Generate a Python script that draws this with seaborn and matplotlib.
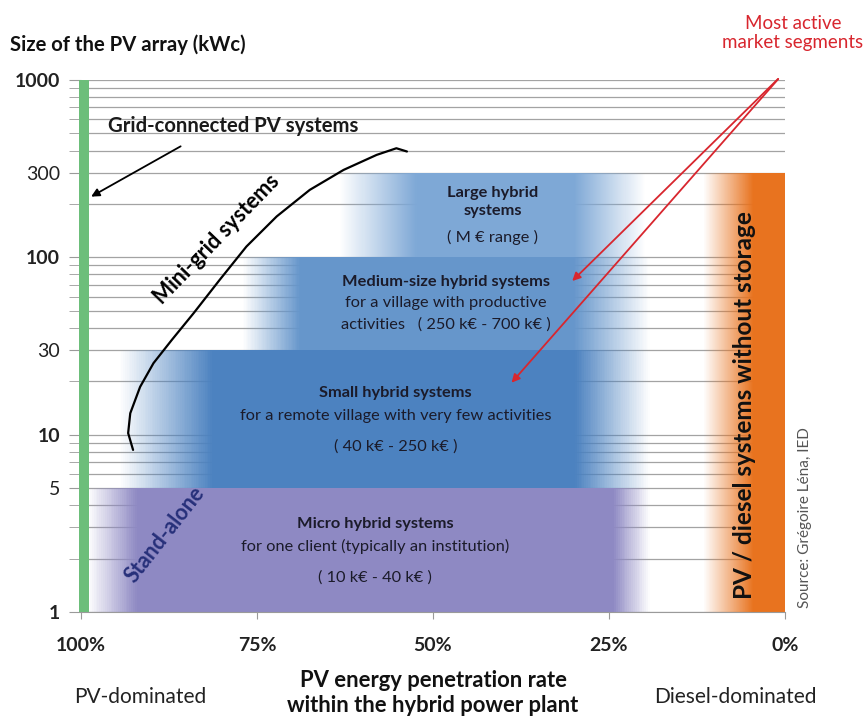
import numpy as np
import matplotlib
matplotlib.use("Agg")
import matplotlib.pyplot as plt
from matplotlib.colors import LinearSegmentedColormap
import seaborn as sns

# ---- data -------------------------------------------------------------
# hybrid-system bands: PV array size (kWc) range and PV penetration (%) range
band_names = ["Micro", "Small", "Medium", "Large"]
band_ymin = [1, 5, 30, 100]
band_ymax = [5, 30, 100, 300]
band_fade_left = [99.0, 94.5, 77.0, 63.2]
band_full_left = [92.0, 81.3, 68.9, 52.3]
band_full_right = [24.4, 29.8, 30.0, 30.0]
band_fade_right = [19.2, 19.2, 19.2, 19.9]
band_colors = ["#8E89C3", "#4C82C0", "#6696CB", "#7EA8D6"]

# PV / diesel without storage (orange) band
diesel_ymin, diesel_ymax = 1, 300
diesel_fade, diesel_full, diesel_edge = 11.6, 4.5, 0.0

# grid-connected PV systems (green) band
grid_ymin, grid_ymax = 1, 1000
grid_x = [100.25, 98.9]

# mini-grid curve
curve_x = [92.6, 93.3, 93.0, 91.6, 89.7, 87.1, 84.0, 80.3, 76.5, 72.2,
           67.5, 62.7, 58.0, 55.2, 53.7]
curve_y = [8.2, 10.2, 13.2, 18.6, 25.3, 34.2, 48.4, 74.6, 115, 170,
           240, 311, 378, 412, 395]

# band labels (title line, detail lines)
band_titles = ["Micro hybrid systems", "Small hybrid systems",
               "Medium-size hybrid systems", "Large hybrid\nsystems"]
band_lines = [["for one client (typically an institution)", "( 10 k€ - 40 k€ )"],
              ["for a remote village with very few activities", "( 40 k€ - 250 k€ )"],
              ["for a village with productive", "activities   ( 250 k€ - 700 k€ )"],
              ["( M € range )"]]
label_x = [58.2, 55.3, 48.2, 41.5]
label_title_y = [3.14, 17.2, 72.6, 205]
label_lines_y = [[2.33, 1.57], [12.7, 8.6], [55.3, 41.6], [130]]

yticks = [1, 5, 10, 30, 100, 300, 1000]
ytick_bold = [True, False, True, False, True, False, True]
xticks = [100, 75, 50, 25, 0]
xtick_labels = ["100%", "75%", "50%", "25%", "0%"]

# ---- style ------------------------------------------------------------
sns.set_style("white")
plt.rcParams["font.family"] = ["Lato", "DejaVu Sans"]
txt = "#1b1b2a"

fig = plt.figure(figsize=(8.67, 7.21), dpi=100)
ax = fig.add_axes([0.0934, 0.1512, 0.8120, 0.7379])
ax.set_yscale("log")
ax.set_xlim(100, 0)
ax.set_ylim(1, 1000)

# grid lines
ax.set_yticks(yticks)
ax.yaxis.set_minor_locator(matplotlib.ticker.LogLocator(base=10, subs=np.arange(2, 10)))
ax.grid(True, which="both", axis="y", color="#a3a3a3", lw=0.9, zorder=0)
ax.set_axisbelow(True)


def gradient_band(x_knots, a_knots, y0, y1, color, z=2):
    xs = np.linspace(max(x_knots), min(x_knots), 300)
    centers = (xs[:-1] + xs[1:]) / 2
    order = np.argsort(x_knots)
    alpha = np.interp(centers, np.array(x_knots)[order], np.array(a_knots)[order])
    rgb = matplotlib.colors.to_rgb(color)
    cmap = LinearSegmentedColormap.from_list("b", [(*rgb, 0.0), (*rgb, 1.0)])
    ax.pcolormesh(xs, [y0, y1], alpha[None, :], cmap=cmap, vmin=0, vmax=1,
                  shading="flat", zorder=z, antialiased=False, edgecolors="none")


for i in range(len(band_names)):
    gradient_band([band_fade_left[i], band_full_left[i], band_full_right[i], band_fade_right[i]],
                  [0, 1, 1, 0], band_ymin[i], band_ymax[i], band_colors[i])

gradient_band([diesel_fade, diesel_full, diesel_edge], [0, 1, 1],
              diesel_ymin, diesel_ymax, "#E8731F")

ax.fill_betweenx([grid_ymin, grid_ymax], grid_x[0], grid_x[1], color="#6CBE7A",
                 lw=0, zorder=4, clip_on=False)

# mini-grid curve
sns.lineplot(x=curve_x, y=curve_y, sort=False, color="black", lw=1.6, ax=ax, zorder=5)

# ticks & spines
for s in ["top", "right", "left"]:
    ax.spines[s].set_visible(False)
ax.spines["bottom"].set_color("#9a9a9a")
ax.set_yticklabels([str(t) for t in yticks], fontsize=14, color="#222222")
for lab, b in zip(ax.get_yticklabels(), ytick_bold):
    lab.set_fontweight("bold" if b else "normal")
ax.tick_params(axis="y", which="major", length=9, color="#9a9a9a", left=True, pad=6)
ax.tick_params(axis="y", which="minor", length=9, color="#9a9a9a", left=True)
ax.yaxis.set_minor_formatter(matplotlib.ticker.NullFormatter())
ax.set_xticks(xticks)
ax.set_xticklabels(xtick_labels, fontsize=14, fontweight="bold", color="#222222")
ax.tick_params(axis="x", length=5, color="#9a9a9a", bottom=True, pad=13)

# band labels
for i in range(len(band_names)):
    ax.text(label_x[i], label_title_y[i], band_titles[i], ha="center", va="center",
            fontsize=11.8, fontweight="bold", color=txt, zorder=6, linespacing=1.35)
    for line, yy in zip(band_lines[i], label_lines_y[i]):
        ax.text(label_x[i], yy, line, ha="center", va="center", fontsize=11.8,
                color=txt, zorder=6)

ax.text(80.7, 126, "Mini-grid systems", rotation=46, ha="center", va="center",
        fontsize=15.5, fontweight="bold", color="black", zorder=6)
ax.text(88.1, 2.72, "Stand-alone", rotation=52, ha="center", va="center",
        fontsize=15.5, fontweight="bold", color="#27307A", zorder=6)
ax.text(5.7, 14.7, "PV / diesel systems without storage", rotation=90, ha="center",
        va="center", fontsize=17.5, fontweight="bold", color="#111111", zorder=6)

ax.annotate("Grid-connected PV systems", xy=(98.9, 216), xytext=(96.2, 551),
            fontsize=14.6, fontweight="bold", color="#1a1a1a", va="center", ha="left",
            zorder=6)
ax.annotate("", xy=(98.9, 216), xytext=(85.5, 430),
            arrowprops=dict(arrowstyle="-|>", color="black", lw=1.3,
                            mutation_scale=12), zorder=6)

# red arrows
for tgt in [(30.5, 71.7), (39.1, 19.1)]:
    ax.annotate("", xy=tgt, xytext=(0.7, 1040), annotation_clip=False,
                arrowprops=dict(arrowstyle="-|>", color="#D8262E", lw=1.3,
                                mutation_scale=12), zorder=7)

# outside texts
fig.text(10 / 867, 1 - 45 / 721, "Size of the PV array (kWc)", fontsize=14.6,
         fontweight="bold", color="#111111", ha="left", va="center")
fig.text(793 / 867, 1 - 33 / 721, "Most active\nmarket segments", fontsize=13.5,
         color="#D8262E", ha="center", va="center", linespacing=1.15)
fig.text(805 / 867, 1 - 518 / 721, "Source: Grégoire Léna, IED", fontsize=11,
         color="#555555", rotation=90, ha="center", va="center")
fig.text(433 / 867, 1 - 693 / 721, "PV energy penetration rate\nwithin the hybrid power plant",
         fontsize=15.8, fontweight="bold", color="#111111", ha="center", va="center",
         linespacing=1.2)
fig.text(140 / 867, 1 - 697 / 721, "PV-dominated", fontsize=15, color="#222222",
         ha="center", va="center")
fig.text(735 / 867, 1 - 697 / 721, "Diesel-dominated", fontsize=15, color="#222222",
         ha="center", va="center")

fig.savefig("out.png", dpi=100)
